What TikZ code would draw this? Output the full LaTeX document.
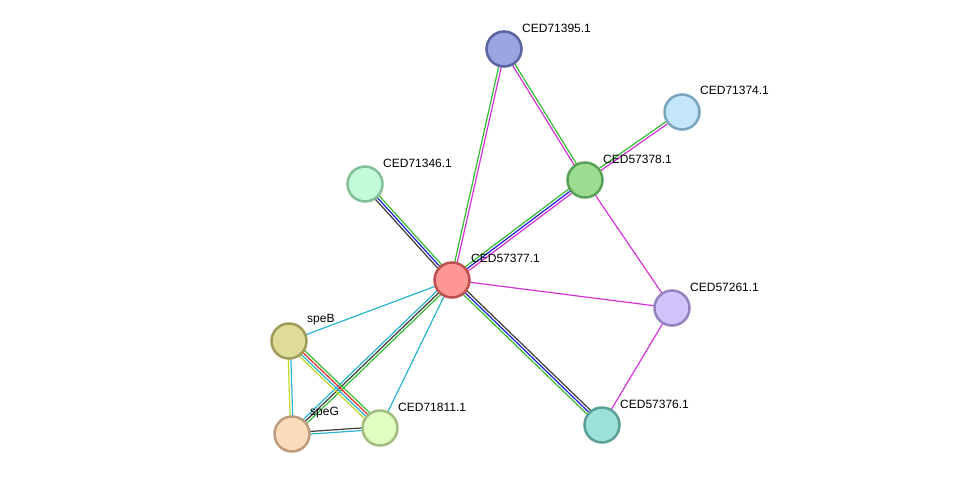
\documentclass[tikz,border=0pt]{standalone}
\usepackage{fontspec}
\setmainfont{Liberation Sans}
\usetikzlibrary{calc,backgrounds}
\definecolor{eg}{RGB}{50,190,50}
\definecolor{eb}{RGB}{30,30,230}
\definecolor{em}{RGB}{215,50,215}
\definecolor{ec}{RGB}{40,180,210}
\definecolor{ek}{RGB}{60,60,60}
\definecolor{er}{RGB}{235,40,40}
\definecolor{ey}{RGB}{190,220,40}
\newcommand{\ed}[4]{\draw[#4] ($(#1)!#3!90:(#2)$) -- ($(#2)!#3!-90:(#1)$);}
\tikzset{
  prot/.style={circle,minimum size=35pt,inner sep=0pt,line width=2.5pt},
  lab/.style={anchor=west,font=\fontsize{12}{14}\selectfont,inner sep=0pt},
  edgeline/.style={line width=1.2pt}
}
\begin{document}
\begin{tikzpicture}[x=1pt,y=-1pt]
\useasboundingbox (0,0) rectangle (975,480);
\node[prot,fill={rgb,255:red,155;green,165;blue,225},draw={rgb,255:red,90;green,100;blue,160}] (n71395) at (504,49) {};
\node[prot,fill={rgb,255:red,195;green,230;blue,250},draw={rgb,255:red,120;green,165;blue,190}] (n71374) at (682,112) {};
\node[prot,fill={rgb,255:red,155;green,222;blue,145},draw={rgb,255:red,90;green,160;blue,85}] (n57378) at (585,180) {};
\node[prot,fill={rgb,255:red,195;green,250;blue,215},draw={rgb,255:red,130;green,190;blue,150}] (n71346) at (365,184) {};
\node[prot,fill={rgb,255:red,255;green,150;blue,150},draw={rgb,255:red,190;green,80;blue,80}] (n57377) at (452,280) {};
\node[prot,fill={rgb,255:red,210;green,195;blue,250},draw={rgb,255:red,150;green,130;blue,190}] (n57261) at (672,308) {};
\node[prot,fill={rgb,255:red,222;green,220;blue,150},draw={rgb,255:red,160;green,155;blue,90}] (speB) at (289,341) {};
\node[prot,fill={rgb,255:red,253;green,220;blue,190},draw={rgb,255:red,190;green,155;blue,125}] (speG) at (292,434) {};
\node[prot,fill={rgb,255:red,225;green,255;blue,195},draw={rgb,255:red,160;green,190;blue,130}] (n71811) at (380,428) {};
\node[prot,fill={rgb,255:red,155;green,225;blue,215},draw={rgb,255:red,90;green,160;blue,150}] (n57376) at (602,425) {};
\node[lab] (l71395) at (522,28) {CED71395.1};
\node[lab] (l71374) at (700,90) {CED71374.1};
\node[lab] (l57378) at (603,159) {CED57378.1};
\node[lab] (l71346) at (383,163) {CED71346.1};
\node[lab] (l57377) at (471,258) {CED57377.1};
\node[lab] (l57261) at (690,287) {CED57261.1};
\node[lab] (lspeB) at (307,320) {speB};
\node[lab] (lspeG) at (310,413) {speG};
\node[lab] (l71811) at (398,407) {CED71811.1};
\node[lab] (l57376) at (620,404) {CED57376.1};
\begin{pgfonlayer}{background}
\begin{scope}[edgeline]
\ed{n57377}{n71395}{1.3pt}{eg}
\ed{n57377}{n71395}{-1.3pt}{em}
\ed{n71395}{n57378}{1.3pt}{eg}
\ed{n71395}{n57378}{-1.3pt}{em}
\ed{n57378}{n71374}{1.3pt}{eg}
\ed{n57378}{n71374}{-1.3pt}{em}
\ed{n57377}{n57378}{2.6pt}{eg}
\ed{n57377}{n57378}{0pt}{eb}
\ed{n57377}{n57378}{-2.6pt}{em}
\ed{n57378}{n57261}{0pt}{em}
\ed{n57377}{n57261}{0pt}{em}
\ed{n57261}{n57376}{0pt}{em}
\ed{n57377}{n57376}{2.6pt}{ek}
\ed{n57377}{n57376}{0pt}{eb}
\ed{n57377}{n57376}{-2.6pt}{eg}
\ed{n57377}{n71346}{2.6pt}{ek}
\ed{n57377}{n71346}{0pt}{eb}
\ed{n57377}{n71346}{-2.6pt}{eg}
\ed{n57377}{speB}{0pt}{ec}
\ed{n57377}{speG}{2.6pt}{eg}
\ed{n57377}{speG}{0pt}{ek}
\ed{n57377}{speG}{-2.6pt}{ec}
\ed{n57377}{n71811}{0pt}{ec}
\ed{speB}{speG}{1.3pt}{ec}
\ed{speB}{speG}{-1.3pt}{ey}
\ed{speB}{n71811}{3.9pt}{eg}
\ed{speB}{n71811}{1.3pt}{er}
\ed{speB}{n71811}{-1.3pt}{ec}
\ed{speB}{n71811}{-3.9pt}{ey}
\ed{speG}{n71811}{1.3pt}{ek}
\ed{speG}{n71811}{-1.3pt}{ec}
\end{scope}
\end{pgfonlayer}
\end{tikzpicture}
\end{document}
